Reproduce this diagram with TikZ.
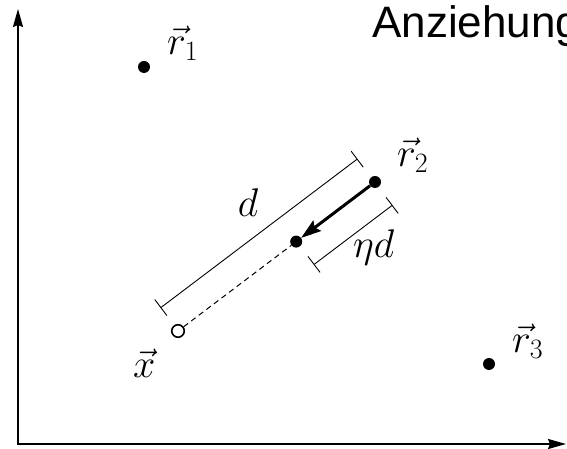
\RequirePackage{fix-cm}
\documentclass[tikz,border=0pt]{standalone}
\usepackage{fontspec}
\newfontfamily\anzfont{Liberation Sans}
\usetikzlibrary{arrows.meta,calc}
\begin{document}
\begin{tikzpicture}[x=1pt,y=1pt,
  dot/.style={circle,fill=black,minimum size=12pt,inner sep=0pt},
  odot/.style={circle,draw=black,line width=1.6pt,fill=white,minimum size=12.5pt,inner sep=0pt},
  lbl/.style={anchor=base west,inner sep=0pt,font=\fontsize{40}{48}\selectfont},
  axisline/.style={line width=2pt,{Stealth[length=18pt,width=10pt,inset=2pt]}-{Stealth[length=18pt,width=10pt,inset=2pt]}},
  dimline/.style={line width=0.9pt,{Bar[width=20pt]}-{Bar[width=20pt]}},
]
\useasboundingbox (0,0) rectangle (567,449);
\coordinate (o) at (18,5);
\coordinate (yend) at (18,440);
\coordinate (xend) at (566,5);
\draw[axisline] (yend) -- (o) -- (xend);

\node[dot] (r1) at (144,382) {};
\node[dot] (r2) at (375,267) {};
\node[odot] (xx) at (178,118) {};
\node[dot] (r3) at (489,85) {};
\node[dot] (m) at ($(xx)!0.6!(r2)$) {};

\draw[line width=1pt,dash pattern=on 5.5pt off 4pt] (xx) -- (m);
\draw[line width=3pt,-{Stealth[length=20pt,width=13pt,inset=3pt]}] (r2) -- (m);

\coordinate (da) at ($(xx.center)!29pt!90:(r2.center)$);
\coordinate (db) at ($(r2.center)!29pt!-90:(xx.center)$);
\coordinate (ea) at ($(m.center)!29pt!-90:(r2.center)$);
\coordinate (eb) at ($(r2.center)!29pt!90:(m.center)$);
\draw[dimline] (da) -- (db);
\draw[dimline] (ea) -- (eb);

\node[lbl] (l1) at (167,394) {$\vec r_1$};
\node[lbl] (l2) at (397,282) {$\vec r_2$};
\node[lbl] (lx) at (133,71) {$\vec x$};
\node[lbl] (l3) at (512,96) {$\vec r_3$};
\node[lbl,anchor=base] (ld) at (248,232) {$d$};
\node[lbl] (led) at (353,191) {$\eta d$};
\node[anchor=base west,inner sep=0pt,font=\anzfont\fontsize{44}{50}\selectfont] (anz) at (372,411) {Anziehung};
\end{tikzpicture}
\end{document}
